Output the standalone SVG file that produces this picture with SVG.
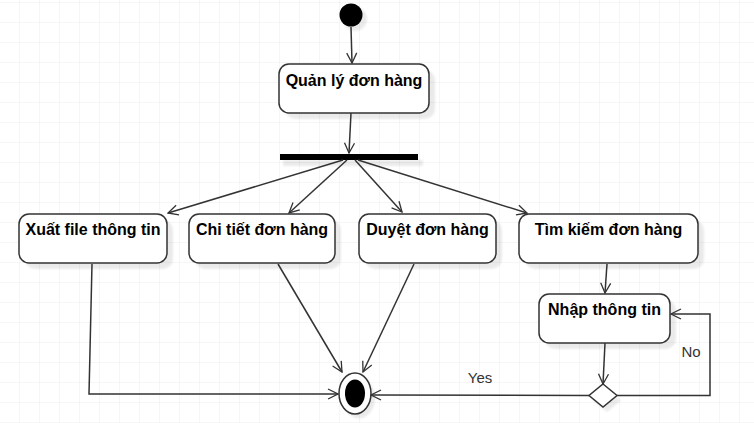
<svg xmlns="http://www.w3.org/2000/svg" width="754" height="423" viewBox="0 0 754 423">
<defs>
<pattern id="grid" x="0" y="3" width="20" height="20" patternUnits="userSpaceOnUse">
<path d="M20 0V20M0 20H20" fill="none" stroke="#ececec" stroke-width="1"/>
</pattern>
<marker id="open" viewBox="0 0 12 12" refX="11" refY="6" markerWidth="12" markerHeight="12" markerUnits="userSpaceOnUse" orient="auto">
<path d="M1 1L11 6L1 11" fill="none" stroke="#333" stroke-width="1.3"/>
</marker>
<filter id="sh" x="-10%" y="-10%" width="130%" height="140%">
<feGaussianBlur stdDeviation="1.2"/>
</filter>
</defs>
<style>
.box{fill:#fff;stroke:#333;stroke-width:1.5}
.shadow{fill:#000;opacity:0.08}
.t{font-family:"Liberation Sans",Arial,sans-serif;font-size:16px;font-weight:bold;fill:#000;text-anchor:middle}
.lbl{font-family:"Liberation Sans",Arial,sans-serif;font-size:15px;fill:#333;text-anchor:middle}
.e{fill:none;stroke:#333;stroke-width:1.5;marker-end:url(#open)}
</style>
<rect width="754" height="423" fill="#fff"/>
<rect width="754" height="423" fill="url(#grid)"/>

<g id="start">
<circle cx="355" cy="19" r="12" class="shadow" filter="url(#sh)"/>
<circle cx="351" cy="15" r="11.5" fill="#000"/>
</g>

<g id="quanly">
<rect x="285" y="70" width="150" height="49" rx="10" class="shadow" filter="url(#sh)"/>
<rect x="279" y="64" width="150" height="49" rx="10" class="box"/>
<text x="354" y="86" class="t">Quản lý đơn hàng</text>
</g>

<g id="fork">
<rect x="283" y="160" width="140" height="6" class="shadow" filter="url(#sh)"/>
<line x1="280" y1="157" x2="418" y2="157" stroke="#000" stroke-width="6"/>
</g>

<g id="xuatfile">
<rect x="25" y="220" width="148" height="49" rx="10" class="shadow" filter="url(#sh)"/>
<rect x="19" y="214" width="148" height="49" rx="10" class="box"/>
<text x="93" y="235" class="t">Xuất file thông tin</text>
</g>

<g id="chitiet">
<rect x="195" y="220" width="146" height="49" rx="10" class="shadow" filter="url(#sh)"/>
<rect x="189" y="214" width="146" height="49" rx="10" class="box"/>
<text x="262" y="235" class="t">Chi tiết đơn hàng</text>
</g>

<g id="duyet">
<rect x="365" y="220" width="137" height="49" rx="10" class="shadow" filter="url(#sh)"/>
<rect x="359" y="214" width="137" height="49" rx="10" class="box"/>
<text x="427.5" y="235" class="t">Duyệt đơn hàng</text>
</g>

<g id="timkiem">
<rect x="525" y="220" width="179" height="49" rx="10" class="shadow" filter="url(#sh)"/>
<rect x="519" y="214" width="179" height="49" rx="10" class="box"/>
<text x="608.5" y="235" class="t">Tìm kiếm đơn hàng</text>
</g>

<g id="nhap">
<rect x="545" y="300" width="131" height="49" rx="10" class="shadow" filter="url(#sh)"/>
<rect x="539" y="294" width="131" height="49" rx="10" class="box"/>
<text x="604.5" y="315" class="t">Nhập thông tin</text>
</g>

<g id="decision">
<path d="M607 389L621 400.5L607 412L593 400.5Z" class="shadow" filter="url(#sh)"/>
<path d="M603 384L617 395.5L603 407L589 395.5Z" class="box" stroke-width="1.3"/>
</g>

<g id="end">
<ellipse cx="359" cy="398" rx="16" ry="20.5" class="shadow" filter="url(#sh)"/>
<ellipse cx="355" cy="393.5" rx="16" ry="20.5" fill="#fff" stroke="#333" stroke-width="1.5"/>
<ellipse cx="355" cy="393.5" rx="10" ry="14" fill="#000"/>
</g>

<g id="edges">
<path d="M351 27L352 63" class="e"/>
<path d="M351 113L349 153" class="e"/>
<path d="M343 160L168 213" class="e"/>
<path d="M347 160L289 213" class="e"/>
<path d="M355 160L402 212" class="e"/>
<path d="M358 160L527 213" class="e"/>
<path d="M92 264L89 394L338 394" class="e"/>
<path d="M278 264L342 372" class="e"/>
<path d="M414 264L363 372" class="e"/>
<path d="M607 264L605 293" class="e"/>
<path d="M605 343L603 384" class="e"/>
<path d="M589 395.5L371 395" class="e"/>
<path d="M617 395.5L710 395.5L710 314L671 314" class="e"/>
<text x="480" y="383" class="lbl">Yes</text>
<text x="691" y="357" class="lbl">No</text>
</g>
</svg>
